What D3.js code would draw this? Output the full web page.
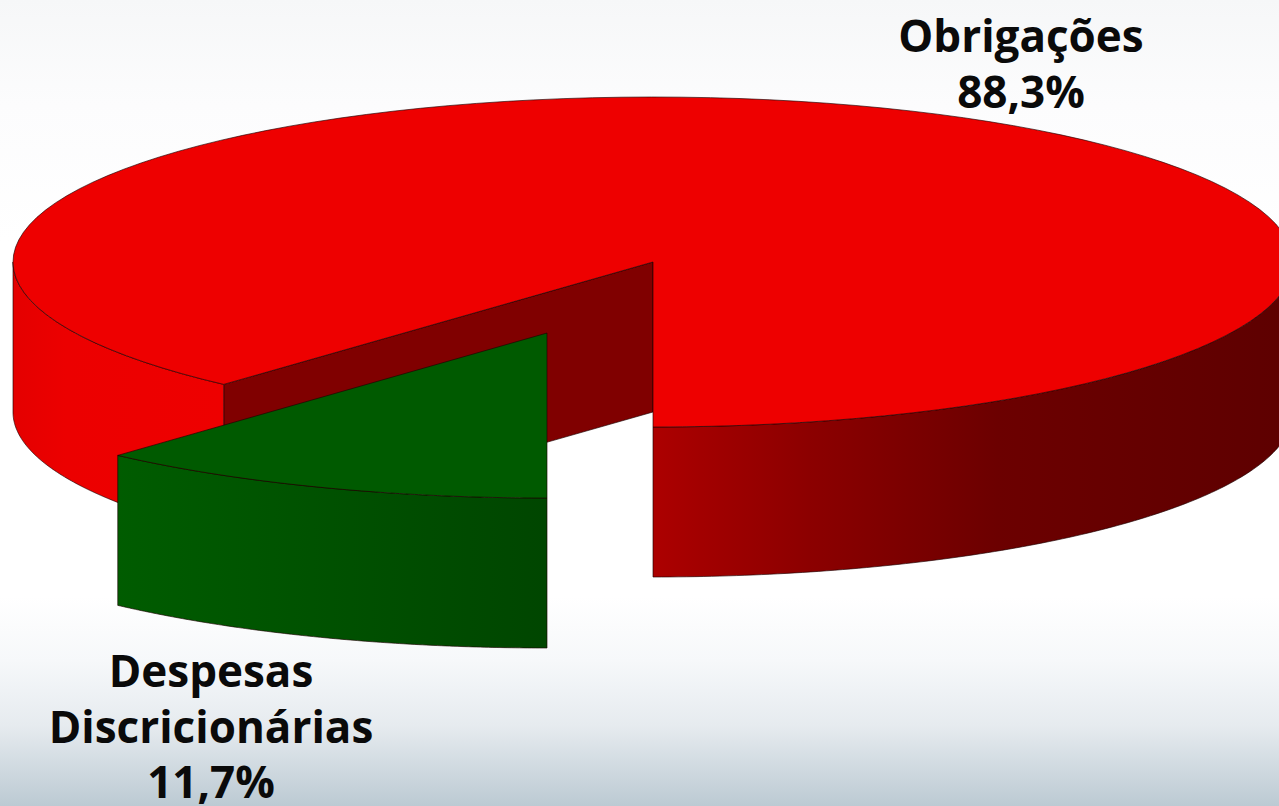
<!DOCTYPE html>
<html><head><meta charset="utf-8">
<script src="https://cdn.jsdelivr.net/npm/d3@7"></script>
<style>html,body{margin:0;padding:0;overflow:hidden;background:#fff}svg{display:block}</style>
</head><body><svg id="c" width="1279" height="806"></svg>
<script>
const categories = ["Despesas Discricionárias", "Obrigações"];
const values = [11.7, 88.3];
const valueLabels = ["11,7%", "88,3%"];
const labelLines = [["Despesas", "Discricionárias", "11,7%"], ["Obrigações", "88,3%"]];

const svg = d3.select("#c");
const defs = svg.append("defs");
function grad(id, stops, x1, x2, vertical) {
  const g = defs.append("linearGradient").attr("id", id).attr("gradientUnits", "userSpaceOnUse");
  if (vertical) g.attr("x1", 0).attr("x2", 0).attr("y1", x1).attr("y2", x2);
  else g.attr("x1", x1).attr("x2", x2).attr("y1", 0).attr("y2", 0);
  stops.forEach(s => g.append("stop").attr("offset", s[0]).attr("stop-color", s[1]));
  return `url(#${id})`;
}
const bg = grad("bg", [[0, "#f6f7f8"], [0.13, "#fcfcfd"], [0.3, "#ffffff"], [0.74, "#ffffff"], [0.82, "#f6f8fa"], [0.9, "#e6ebef"], [1, "#bccad3"]], 0, 806, true);
svg.append("rect").attr("width", 1279).attr("height", 806).attr("fill", bg);

const sx = d3.scaleLinear().domain([-1, 1]).range([13, 1293]);
const sy = d3.scaleLinear().domain([-1, 1]).range([97, 427]);
const depth = 150;
const explode = [-106, 71];
const arcs = d3.pie().sort(null).startAngle(Math.PI).endAngle(3 * Math.PI)(values);
const green = arcs[0], red = arcs[1];
const line = d3.line();
const pt = (a, dx, dy) => [sx(Math.sin(a)) + dx, sy(-Math.cos(a)) + dy];
const rim = (a0, a1, dx, dy) => d3.range(121).map(i => pt(a0 + (a1 - a0) * i / 120, dx, dy));
const centre = (dx, dy) => [sx(0) + dx, sy(0) + dy];
const edge = { stroke: "#1a0000", "stroke-width": 0.8, "stroke-opacity": 0.8, "stroke-linejoin": "round" };
function draw(points, fill, close = true) {
  const p = svg.append("path").attr("d", line(points) + (close ? "Z" : "")).attr("fill", fill);
  Object.entries(edge).forEach(([k, v]) => p.attr(k, v));
  return p;
}
function wall(a0, a1, dx, dy, fill) {
  draw(rim(a0, a1, dx, dy).concat(rim(a1, a0, dx, dy + depth)), fill);
}

const redLeft = grad("redL", [[0, "#e40000"], [0.25, "#ec0000"], [1, "#ee0000"]], 13, 222);
const redRight = grad("redR", [[0, "#ac0000"], [0.25, "#8c0000"], [0.55, "#6c0000"], [1, "#5e0000"]], 653, 1279);
const greenSide = grad("greenS", [[0, "#005c00"], [1, "#004600"]], 116, 547);

// inner cut wall of the large slice
const cut = pt(red.startAngle, 0, 0);
draw([centre(0, 0), cut, [cut[0], cut[1] + depth], centre(0, depth)], "#800000");
// outer walls of the large slice
wall(red.startAngle, 1.5 * Math.PI, 0, 0, redLeft);
wall(2.5 * Math.PI, red.endAngle, 0, 0, redRight);
// top of the large slice
draw([centre(0, 0)].concat(rim(red.startAngle, red.endAngle, 0, 0)), "#ee0000");
// exploded small slice
wall(green.startAngle, green.endAngle, explode[0], explode[1], greenSide);
draw([centre(explode[0], explode[1])].concat(rim(green.startAngle, green.endAngle, explode[0], explode[1])), "#005a00");

const labelPos = [{ x: 211, y: 687, dy: 55.5 }, { x: 1021, y: 52, dy: 55.5 }];
labelLines.forEach((lines, i) => {
  lines.forEach((t, j) => {
    svg.append("text").attr("x", labelPos[i].x).attr("y", labelPos[i].y + j * labelPos[i].dy)
      .attr("text-anchor", "middle").attr("font-family", "'Open Sans'").attr("font-weight", 700)
      .attr("font-size", 44).attr("fill", "#0a0a0a").text(t);
  });
});
</script></body></html>
